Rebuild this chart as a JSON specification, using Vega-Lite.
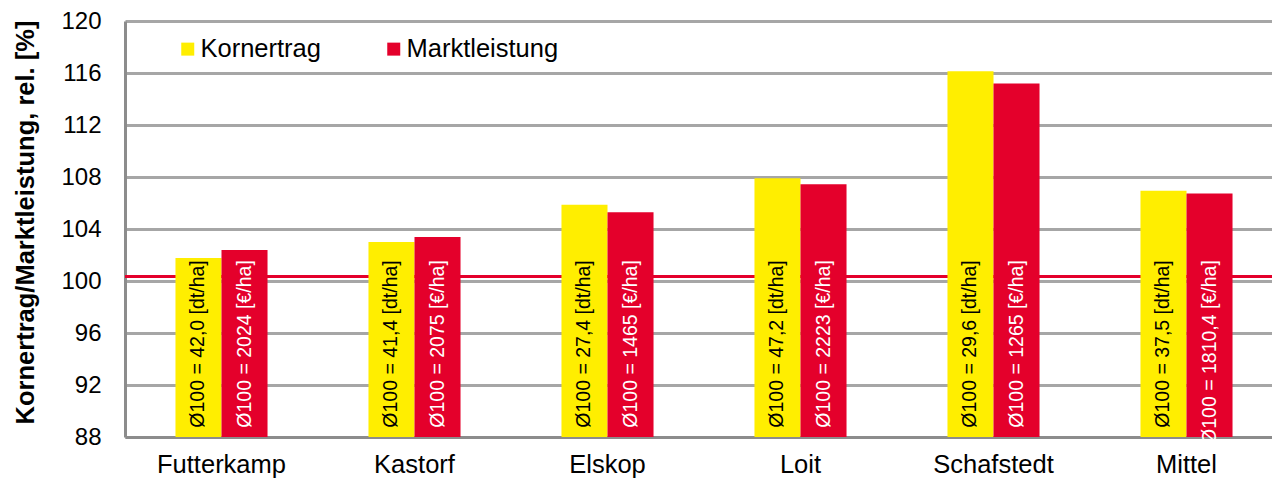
{
  "$schema": "https://vega.github.io/schema/vega-lite/v6.json",
  "width": 1158,
  "height": 416,
  "autosize": {"type": "none"},
  "padding": {"left": 125, "top": 21, "right": 0, "bottom": 42},
  "background": "white",
  "config": {
    "font": "Liberation Sans",
    "view": {"stroke": null}
  },
  "data": {
    "values": [
      {"site": "Futterkamp", "series": "Kornertrag", "value": 101.77, "label": "Ø100 = 42,0 [dt/ha]"},
      {"site": "Futterkamp", "series": "Marktleistung", "value": 102.38, "label": "Ø100 = 2024 [€/ha]"},
      {"site": "Kastorf", "series": "Kornertrag", "value": 103.0, "label": "Ø100 = 41,4 [dt/ha]"},
      {"site": "Kastorf", "series": "Marktleistung", "value": 103.38, "label": "Ø100 = 2075 [€/ha]"},
      {"site": "Elskop", "series": "Kornertrag", "value": 105.87, "label": "Ø100 = 27,4 [dt/ha]"},
      {"site": "Elskop", "series": "Marktleistung", "value": 105.28, "label": "Ø100 = 1465 [€/ha]"},
      {"site": "Loit", "series": "Kornertrag", "value": 107.9, "label": "Ø100 = 47,2 [dt/ha]"},
      {"site": "Loit", "series": "Marktleistung", "value": 107.45, "label": "Ø100 = 2223 [€/ha]"},
      {"site": "Schafstedt", "series": "Kornertrag", "value": 116.13, "label": "Ø100 = 29,6 [dt/ha]"},
      {"site": "Schafstedt", "series": "Marktleistung", "value": 115.2, "label": "Ø100 = 1265 [€/ha]"},
      {"site": "Mittel", "series": "Kornertrag", "value": 106.95, "label": "Ø100 = 37,5 [dt/ha]"},
      {"site": "Mittel", "series": "Marktleistung", "value": 106.74, "label": "Ø100 = 1810,4 [€/ha]"}
    ]
  },
  "encoding": {
    "x": {
      "field": "site",
      "type": "nominal",
      "sort": null,
      "scale": {"paddingInner": 0.523, "paddingOuter": 0.2615},
      "axis": {
        "title": null,
        "labelAngle": 0,
        "labelFontSize": 25.5,
        "labelColor": "#000000",
        "labelPadding": 15,
        "ticks": false,
        "domainColor": "#8C8C8C",
        "domainWidth": 3,
        "grid": false
      }
    },
    "xOffset": {"field": "series", "type": "nominal", "scale": {"paddingInner": 0, "paddingOuter": 0}},
    "y": {
      "field": "value",
      "type": "quantitative",
      "scale": {"domain": [88, 120], "zero": false, "nice": false},
      "axis": {
        "values": [88, 92, 96, 100, 104, 108, 112, 116, 120],
        "grid": true,
        "gridColor": "#A6A6A6",
        "gridWidth": 3,
        "title": "Kornertrag/Marktleistung, rel. [%]",
        "titleFontSize": 25.5,
        "titleFontWeight": "bold",
        "titleColor": "#000000",
        "titleAngle": 270,
        "titleX": -100,
        "titleY": 201,
        "titleAlign": "center",
        "titleBaseline": "middle",
        "labelFontSize": 24,
        "labelColor": "#000000",
        "labelPadding": 24,
        "ticks": false,
        "domainColor": "#8C8C8C",
        "domainWidth": 3
      }
    }
  },
  "layer": [
    {
      "mark": {"type": "rule", "color": "#E4002B", "strokeWidth": 3},
      "encoding": {"y": {"datum": 100.35, "type": "quantitative"}, "x": null, "xOffset": null}
    },
    {
      "mark": {"type": "bar"},
      "encoding": {
        "y2": {"datum": 88},
        "color": {
          "field": "series",
          "type": "nominal",
          "scale": {"domain": ["Kornertrag", "Marktleistung"], "range": ["#FFEE00", "#E4002B"]},
          "legend": {
            "title": null,
            "orient": "none",
            "legendX": 50,
            "legendY": 15,
            "direction": "horizontal",
            "padding": 0,
            "symbolType": "square",
            "symbolSize": 169,
            "symbolStrokeWidth": 0,
            "symbolOpacity": 1,
            "labelFontSize": 25.5,
            "labelColor": "#000000",
            "labelOffset": 0,
            "columnPadding": 60,
            "labelLimit": 300
          }
        }
      }
    },
    {
      "mark": {"type": "text", "angle": 270, "align": "right", "baseline": "middle", "fontSize": 19.5},
      "encoding": {
        "y": {"datum": 101.6, "type": "quantitative"},
        "text": {"field": "label"},
        "color": {
          "condition": {"test": "datum.series === 'Marktleistung'", "value": "#FFFFFF"},
          "value": "#000000"
        }
      }
    }
  ]
}
